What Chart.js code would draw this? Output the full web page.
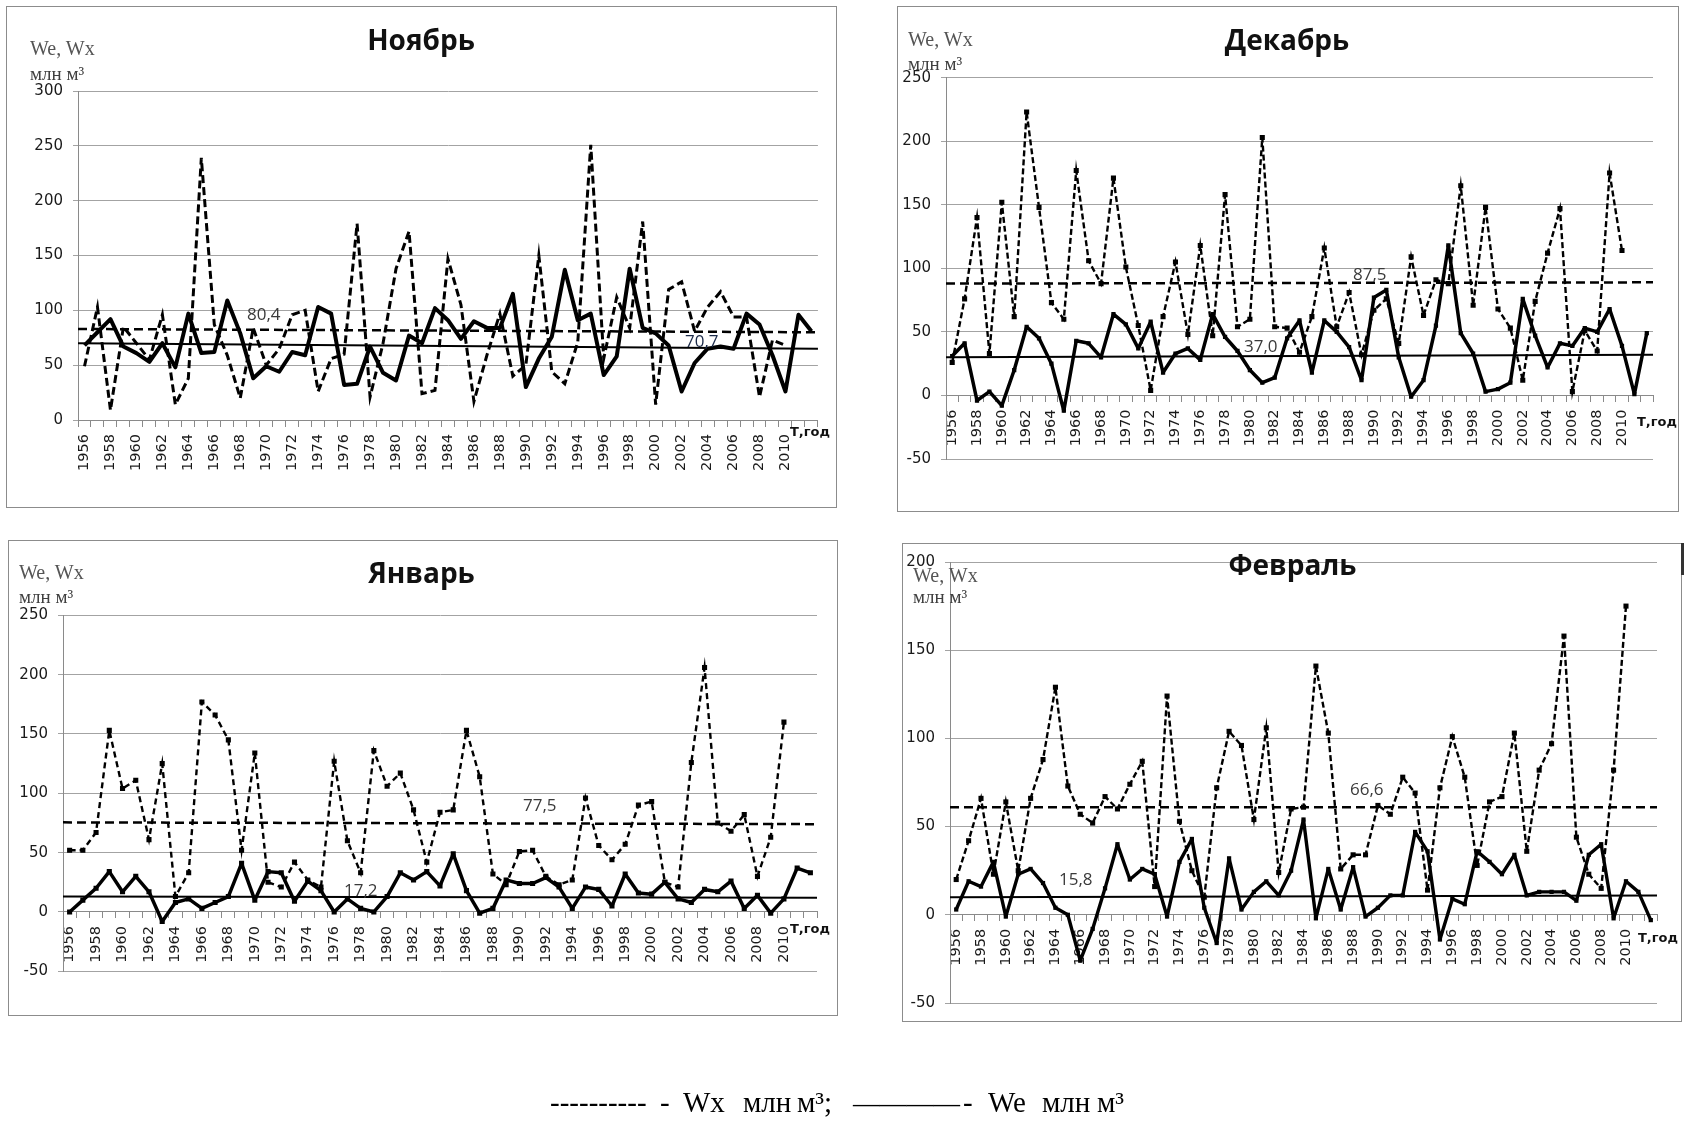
<!DOCTYPE html>
<html><head><meta charset="utf-8">
<script src="https://cdn.jsdelivr.net/npm/chart.js@4.4.0/dist/chart.umd.min.js"></script>
<style>
html,body{margin:0;padding:0;background:#fff;}
body{width:1686px;height:1123px;position:relative;overflow:hidden;}
.frame{position:absolute;border:1px solid #8c8c8c;box-sizing:border-box;}
canvas{position:absolute;}
svg{position:absolute;left:0;top:0;}
</style></head><body>
<script>
const years = ['1956','1957','1958','1959','1960','1961','1962','1963','1964','1965',
 '1966','1967','1968','1969','1970','1971','1972','1973','1974','1975',
 '1976','1977','1978','1979','1980','1981','1982','1983','1984','1985',
 '1986','1987','1988','1989','1990','1991','1992','1993','1994','1995',
 '1996','1997','1998','1999','2000','2001','2002','2003','2004','2005',
 '2006','2007','2008','2009','2010','2011','2012'];
const tickYears = ['1956','1958','1960','1962','1964','1966','1968','1970','1972','1974',
 '1976','1978','1980','1982','1984','1986','1988','1990','1992','1994',
 '1996','1998','2000','2002','2004','2006','2008','2010'];

// Ноябрь
const novWe = [68,80,92,67,61,53,70,48,97,61, 62,109,79,38,49,44,62,59,103,97, 32,33,67,43,36,77,70,102,91,74, 90,84,84,115,30,56,76,137,91,97, 41,58,138,84,79,68,26,52,65,67, 65,97,87,59,26,96,81];
const novWx = [49,103,9,85,70,55,96,14,38,239, 87,59,20,84,50,65,96,100,26,56, 60,179,21,70,138,172,24,27,147,105, 17,59,97,40,50,150,44,33,71,251, 56,112,84,181,14,119,126,81,103,117, 94,94,21,73,68,null,null];
const novTrendWx = [83, 80];
const novTrendWe = [70, 65];
const novYTicks = [0,50,100,150,200,250,300];

// Декабрь
const decWe = [31,41,-4,3,-8,20,54,45,25,-12, 43,41,30,64,56,37,58,18,33,37, 28,64,46,35,20,10,14,45,59,18, 59,50,38,12,77,83,30,-1,12,55, 118,49,33,3,5,10,76,47,22,41, 39,53,50,68,39,1,49];
const decWx = [26,76,140,33,152,62,223,148,73,60, 177,106,88,171,101,55,4,62,105,48, 118,47,158,54,60,203,54,53,34,62, 116,54,81,32,67,76,41,109,63,91, 88,165,71,148,68,53,12,74,112,147, 3,51,35,175,114,null,null];
const decTrendWx = [88, 89];
const decTrendWe = [30, 32];
const decYTicks = [-50,0,50,100,150,200,250];

// Январь
const janWe = [0,10,20,34,17,30,17,-8,8,11, 3,8,13,41,10,34,33,9,26,18, 0,11,3,0,13,33,27,34,22,49, 18,-1,3,27,24,24,29,21,3,21, 19,5,32,16,15,25,11,8,19,17, 26,3,14,-1,11,37,33];
const janWx = [52,52,67,153,104,111,61,125,13,33, 177,166,145,52,134,25,21,42,27,21, 127,60,33,136,106,117,86,42,84,86, 153,114,32,23,51,52,30,23,27,96, 56,44,57,90,93,25,21,126,206,75, 68,82,30,63,160,null,null];
const janTrendWx = [75.5, 74];
const janTrendWe = [13, 12];
const janYTicks = [-50,0,50,100,150,200,250];

// Февраль
const febWe = [3,19,16,30,-1,23,26,18,4,0, -26,-8,15,40,20,26,23,-1,30,43, 4,-16,32,3,13,19,11,25,54,-2, 26,3,27,-1,4,11,11,47,36,-14, 9,6,36,30,23,34,11,13,13,13, 8,34,40,-2,19,13,-3];
const febWx = [20,42,66,23,64,25,66,88,129,73, 57,52,67,60,74,87,16,124,53,25, 10,72,104,96,54,106,24,60,61,141, 103,26,34,34,62,57,78,69,14,72, 101,78,28,64,67,103,36,82,97,158, 44,23,15,82,175,null,null];
const febTrendWx = [61, 61];
const febTrendWe = [10, 11];
const febYTicks = [-50,0,50,100,150,200];

Chart.defaults.font.family = 'DejaVu Sans';

function makePanel(frame, plot, wx, we, trendWx, trendWe, yTicks, st) {
  const [fx, fy, fw, fh] = frame;
  const fr = document.createElement('div');
  fr.className = 'frame';
  Object.assign(fr.style, {left: fx+'px', top: fy+'px', width: fw+'px', height: fh+'px'});
  document.body.appendChild(fr);
  const cv = document.createElement('canvas');
  cv.width = fw; cv.height = fh;
  Object.assign(cv.style, {left: fx+'px', top: fy+'px', width: fw+'px', height: fh+'px'});
  document.body.appendChild(cv);
  const YW = 47;
  const pad = {left: plot[0] - fx - YW, top: plot[1] - fy, right: fx + fw - plot[2], bottom: fy + fh - plot[3]};
  const n = years.length;
  new Chart(cv, {
    type: 'line',
    data: {
      labels: years,
      datasets: [
        {data: wx, borderColor: '#000', backgroundColor: '#000', borderWidth: st.wxW, borderDash: st.wxDash,
         pointStyle: 'rect', pointRadius: st.wxPr, pointBorderWidth: 0, pointBackgroundColor: '#000', tension: 0, fill: false},
        {data: we, borderColor: '#000', backgroundColor: '#000', borderWidth: st.weW, borderJoinStyle: 'round',
         pointStyle: 'rect', pointRadius: st.wePr, pointBorderWidth: 0, pointBackgroundColor: '#000', tension: 0, fill: false},
        {data: [{x: -0.5, y: trendWx[0]}, {x: n - 0.5, y: trendWx[1]}], xAxisID: 'xt',
         borderColor: '#000', borderWidth: 2.5, borderDash: [9,5], pointRadius: 0, fill: false},
        {data: [{x: -0.5, y: trendWe[0]}, {x: n - 0.5, y: trendWe[1]}], xAxisID: 'xt',
         borderColor: '#000', borderWidth: 2, pointRadius: 0, fill: false}
      ]
    },
    options: {
      responsive: false, animation: false, devicePixelRatio: 1,
      layout: {padding: pad},
      plugins: {legend: {display: false}, tooltip: {enabled: false}, title: {display: false}},
      scales: {
        x: {type: 'category', position: {y: 0}, offset: true,
            grid: {offset: true, drawOnChartArea: false, drawTicks: true, tickLength: 6, color: '#8a8a8a'},
            border: {display: true, color: '#8a8a8a', width: 1},
            ticks: {autoSkip: false, minRotation: 90, maxRotation: 90, padding: 8, color: '#1a1a1a',
                    font: {family: 'DejaVu Sans', size: 14.5},
                    callback: function(v, i) { const l = years[i]; return tickYears.includes(l) ? l : ''; }}},
        xt: {type: 'linear', display: false, min: -0.5, max: n - 0.5},
        y: {type: 'linear', min: yTicks[0], max: yTicks[yTicks.length - 1],
            afterFit: function(s) { s.width = YW; },
            grid: {color: '#a3a3a3', tickLength: 5, lineWidth: 1},
            border: {color: '#8a8a8a'},
            ticks: {stepSize: yTicks[1] - yTicks[0], padding: 10, color: '#1a1a1a',
                    font: {family: 'DejaVu Sans', size: 15}}}
      }
    }
  });
}

makePanel([6, 6, 831, 502], [78, 91, 828, 420], novWx, novWe, novTrendWx, novTrendWe, novYTicks,
  {wxW: 3, wxDash: [8,4], wxPr: 0, weW: 4, wePr: 0});
makePanel([897, 6, 782, 506], [946, 77.7, 1653, 459], decWx, decWe, decTrendWx, decTrendWe, decYTicks,
  {wxW: 2.4, wxDash: [6,3], wxPr: 3.6, weW: 3.5, wePr: 3});
makePanel([8, 540, 830, 476], [63, 615.3, 817, 971.3], janWx, janWe, janTrendWx, janTrendWe, janYTicks,
  {wxW: 2.4, wxDash: [6,4], wxPr: 3.6, weW: 3.5, wePr: 3.6});
makePanel([902, 543, 780, 479], [950, 560.7, 1657, 1003.3], febWx, febWe, febTrendWx, febTrendWe, febYTicks,
  {wxW: 2.4, wxDash: [6,3], wxPr: 3.6, weW: 3.4, wePr: 3});
</script>
<div style="position:absolute;left:1681px;top:543px;width:3px;height:32px;background:#333;"></div>
<svg width="1686" height="1123" xmlns="http://www.w3.org/2000/svg">
  <g font-family="Open Sans" font-weight="bold" font-size="28" text-anchor="middle" fill="#111">
    <text x="421" y="50">Ноябрь</text>
    <text x="1287" y="50">Декабрь</text>
    <text x="421.5" y="583">Январь</text>
    <text x="1292.5" y="575">Февраль</text>
  </g>
  <g font-family="Liberation Serif" font-size="20" fill="#555">
    <text x="30" y="55">We, Wx</text>
    <text x="908" y="45.5">We, Wx</text>
    <text x="19" y="579">We, Wx</text>
    <text x="913" y="581.5">We, Wx</text>
  </g>
  <g font-family="Liberation Serif" font-size="19" fill="#404040">
    <text x="30" y="80">млн м³</text>
    <text x="908" y="70">млн м³</text>
    <text x="19" y="603">млн м³</text>
    <text x="913" y="603">млн м³</text>
  </g>
  <g font-family="Open Sans" font-size="17" fill="#3a3a3a">
    <text x="247" y="320">80,4</text>
    <text x="685" y="347" fill="#1c2b4a">70,7</text>
    <text x="1353" y="280">87,5</text>
    <text x="1244" y="352">37,0</text>
    <text x="523" y="811">77,5</text>
    <text x="344" y="896">17,2</text>
    <text x="1350" y="795">66,6</text>
    <text x="1059" y="885">15,8</text>
  </g>
  <g font-family="DejaVu Sans" font-weight="bold" font-size="13" fill="#111">
    <text x="790" y="436">Т,год</text>
    <text x="1637" y="426">Т,год</text>
    <text x="790" y="933">Т,год</text>
    <text x="1638" y="942">Т,год</text>
  </g>
  <text font-family="Liberation Serif" font-size="29" y="1112" fill="#000" xml:space="preserve"><tspan x="550">----------</tspan><tspan x="660">-</tspan><tspan x="683">Wx</tspan><tspan x="743">млн</tspan><tspan x="797">м³;</tspan><tspan x="853" font-size="26.75">————</tspan><tspan x="963">-</tspan><tspan x="988">We</tspan><tspan x="1042">млн</tspan><tspan x="1097">м³</tspan></text>
</svg>
</body></html>
